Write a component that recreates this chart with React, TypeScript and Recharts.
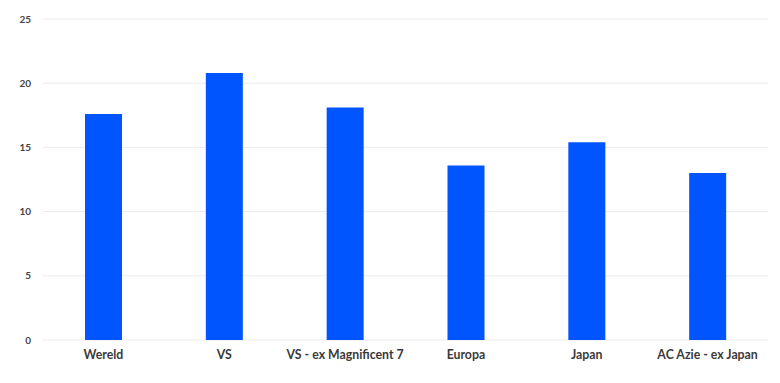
import { BarChart, Bar, XAxis, YAxis, CartesianGrid } from 'recharts';

const regions = ["Wereld", "VS", "VS - ex Magnificent 7", "Europa", "Japan", "AC Azie - ex Japan"];
const peValues = [17.6, 20.8, 18.1, 13.6, 15.4, 13.0];
const yTicks = [0, 5, 10, 15, 20, 25];

const chartData = regions.map((name, i) => ({ name, pe: peValues[i] }));

export default function App() {
  return (
    <div style={{ position: 'absolute', left: 0, top: 0, background: '#fff', fontFamily: 'Lato, sans-serif' }}>
      <BarChart width={780} height={383} data={chartData} margin={{ top: 19, right: 12, bottom: 0, left: 0 }}>
        <CartesianGrid horizontal vertical={false} stroke="#ececec" />
        <XAxis
          dataKey="name"
          height={43}
          axisLine={false}
          tickLine={false}
          tickSize={0}
          tickMargin={10}
          interval={0}
          tick={{ fill: '#3a3a3a', fontSize: 12.3, fontWeight: 700 }}
        />
        <YAxis
          width={43}
          domain={[0, 25]}
          ticks={yTicks}
          axisLine={false}
          tickLine={false}
          tickSize={0}
          tickMargin={12}
          tick={{ fill: '#444', fontSize: 10, fontWeight: 700 }}
        />
        <Bar dataKey="pe" fill="#0055fe" barSize={37} isAnimationActive={false} />
      </BarChart>
    </div>
  );
}
